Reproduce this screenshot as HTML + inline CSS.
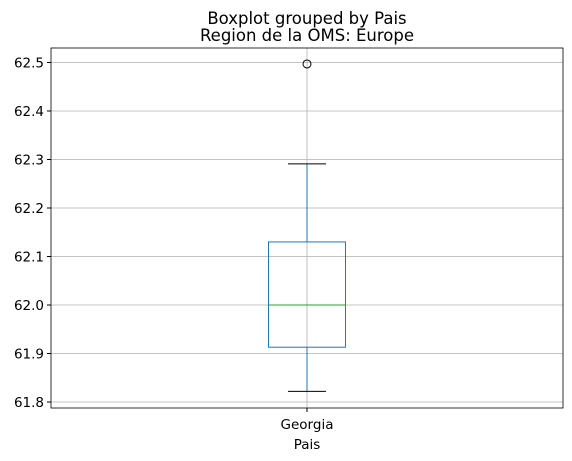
<!DOCTYPE html>
<html><head><meta charset="utf-8"><style>body{margin:0;background:#fff}svg{display:block;font-family:"DejaVu Sans","Liberation Sans",sans-serif}</style></head>
<body>
<svg id="chart" width="572" height="461" xmlns="http://www.w3.org/2000/svg">
<text x="307" y="24" font-size="16.5" text-anchor="middle">Boxplot grouped by Pais</text>
<text x="307" y="41" font-size="16.5" text-anchor="middle">Region de la OMS: Europe</text>
<g id="plot"></g>
<text x="307" y="449" font-size="13.5" text-anchor="middle">Pais</text>
</svg>
<script>
const categories=["Georgia"];
const q1=[61.913], q3=[62.13], medians=[62.0], whiskLo=[61.822], whiskHi=[62.291];
const outliers=[[62.497]];
const yTicks=[61.8,61.9,62.0,62.1,62.2,62.3,62.4,62.5];
const L=51,R=563,T=48,B=408;
const y=v=>305-(v-62.0)*485;
const x=i=>L+(R-L)*(i+0.5)/categories.length;
const g=document.getElementById('plot');
const NS='http://www.w3.org/2000/svg';
function mk(t,a,p){const e=document.createElementNS(NS,t);for(const k in a)e.setAttribute(k,a[k]);(p||g).appendChild(e);return e;}
yTicks.forEach(v=>{
 const l=mk('line',{x1:L,x2:R,y1:y(v),y2:y(v),stroke:'#b0b0b0','stroke-width':0.8});
 
 
 const tk=mk('line',{x1:L-4,x2:L,y1:y(v),y2:y(v),stroke:'#000'});
 
 
 const t=mk('text',{x:L-7,y:y(v)+5,'font-size':13.5,'text-anchor':'end'});
 t.textContent=v.toFixed(1);
 
 
});
categories.forEach((c,i)=>{
 const cx=x(i);
 const gl=mk('line',{x1:cx,x2:cx,y1:T,y2:B,stroke:'#b0b0b0','stroke-width':0.8});
 
 
 const tk=mk('line',{x1:cx,x2:cx,y1:B,y2:B+4,stroke:'#000'});
 
 
 const t=mk('text',{x:cx,y:B+21,'font-size':13.5,'text-anchor':'middle'});
 t.textContent=c;
 
 
 const bw=77,cw=38;
 const w1=mk('line',{x1:cx,x2:cx,y1:y(q1[i]),y2:y(whiskLo[i]),stroke:'#1f77b4'});
 
 
 const w2=mk('line',{x1:cx,x2:cx,y1:y(q3[i]),y2:y(whiskHi[i]),stroke:'#1f77b4'});
 
 
 const c1=mk('line',{x1:cx-cw/2,x2:cx+cw/2,y1:y(whiskLo[i]),y2:y(whiskLo[i]),stroke:'#000'});
 
 
 const c2=mk('line',{x1:cx-cw/2,x2:cx+cw/2,y1:y(whiskHi[i]),y2:y(whiskHi[i]),stroke:'#000'});
 
 
 const b=mk('rect',{x:cx-bw/2,y:y(q3[i]),width:bw,height:y(q1[i])-y(q3[i]),fill:'none',stroke:'#1f77b4'});
 
 
 const m=mk('line',{x1:cx-bw/2,x2:cx+bw/2,y1:y(medians[i]),y2:y(medians[i]),stroke:'#2ca02c'});
 
 
 outliers[i].forEach(o=>{
  const p=mk('circle',{cx:cx,cy:y(o),r:4,fill:'none',stroke:'#000'});
  
  
 });
});
const fr=mk('rect',{x:L,y:T,width:R-L,height:B-T,fill:'none',stroke:'#000','stroke-width':0.8});


</script>
</body></html>
